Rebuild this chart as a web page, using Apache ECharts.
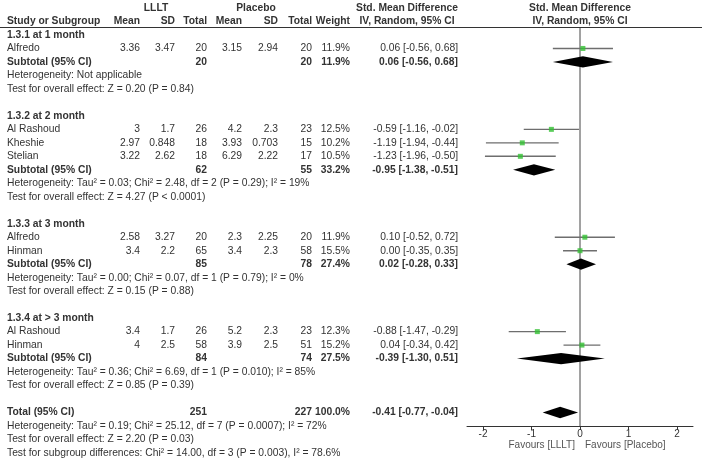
<!DOCTYPE html>
<html>
<head>
<meta charset="utf-8">
<script src="https://cdn.jsdelivr.net/npm/echarts@6/dist/echarts.min.js"></script>
<style>
html,body{margin:0;padding:0;background:#fff;}
#chart{width:702px;height:460px;}
</style>
</head>
<body>
<div id="chart"></div>
<script>
// ---------- data ----------
const studyNames = ['Alfredo','Al Rashoud','Kheshie','Stelian','Alfredo','Hinman','Al Rashoud','Hinman'];
const studyGroup = [0,1,1,1,2,2,3,3];
const lllMean = [3.36,3,2.97,3.22,2.58,3.4,3.4,4];
const lllSD = [3.47,1.7,0.848,2.62,3.27,2.2,1.7,2.5];
const lllN = [20,26,18,18,20,65,26,58];
const plMean = [3.15,4.2,3.93,6.29,2.3,3.4,5.2,3.9];
const plSD = [2.94,2.3,0.703,2.22,2.25,2.3,2.3,2.5];
const plN = [20,23,15,17,20,58,23,51];
const weights = [11.9,12.5,10.2,10.5,11.9,15.5,12.3,15.2];
const smd = [0.06,-0.59,-1.19,-1.23,0.10,0.00,-0.88,0.04];
const ciLow = [-0.56,-1.16,-1.94,-1.96,-0.52,-0.35,-1.47,-0.34];
const ciHigh = [0.68,-0.02,-0.44,-0.50,0.72,0.35,-0.29,0.42];

const groupNames = ['1.3.1 at 1 month','1.3.2 at 2 month','1.3.3 at 3 month','1.3.4 at > 3 month'];
const subLlltN = [20,62,85,84];
const subPlN = [20,55,78,74];
const subWeight = [11.9,33.2,27.4,27.5];
const subSmd = [0.06,-0.95,0.02,-0.39];
const subLow = [-0.56,-1.38,-0.28,-1.30];
const subHigh = [0.68,-0.51,0.33,0.51];
const subHet = [
  'Heterogeneity: Not applicable',
  'Heterogeneity: Tau² = 0.03; Chi² = 2.48, df = 2 (P = 0.29); I² = 19%',
  'Heterogeneity: Tau² = 0.00; Chi² = 0.07, df = 1 (P = 0.79); I² = 0%',
  'Heterogeneity: Tau² = 0.36; Chi² = 6.69, df = 1 (P = 0.010); I² = 85%'
];
const subTest = [
  'Test for overall effect: Z = 0.20 (P = 0.84)',
  'Test for overall effect: Z = 4.27 (P < 0.0001)',
  'Test for overall effect: Z = 0.15 (P = 0.88)',
  'Test for overall effect: Z = 0.85 (P = 0.39)'
];
const totalLabel = 'Total (95% CI)';
const totalN = [251,227];
const totalWeight = 100.0;
const totalSmd = [-0.41,-0.77,-0.04];
const footerLines = [
  'Heterogeneity: Tau² = 0.19; Chi² = 25.12, df = 7 (P = 0.0007); I² = 72%',
  'Test for overall effect: Z = 2.20 (P = 0.03)',
  'Test for subgroup differences: Chi² = 14.00, df = 3 (P = 0.003), I² = 78.6%'
];
const headerTop = ['LLLT','Placebo','Std. Mean Difference','Std. Mean Difference'];
const headerCols = ['Study or Subgroup','Mean','SD','Total','Mean','SD','Total','Weight','IV, Random, 95% CI','IV, Random, 95% CI'];
const xTicks = [-2,-1,0,1,2];
const favoursLabels = ['Favours [LLLT]','Favours [Placebo]'];

// ---------- layout (code only) ----------
const COL = {study:7, lMean:140, lSD:175, lN:207, pMean:242, pSD:278, pN:312, weight:350, ci:458};
const TXT = '#333';
const FONT = '"Liberation Sans", Arial, sans-serif';
const FS = 10.3;

const cells = [];   // text cells
const studyRows = [];
const diamonds = [];  // [est, lo, hi, row]
function cell(row, x, text, align, bold, opt) {
  cells.push(Object.assign({row, x, text: String(text), align: align || 'right', bold: !!bold}, opt || {}));
}
const fmtCI = (e, l, h) => `${e.toFixed(2)} [${l.toFixed(2)}, ${h.toFixed(2)}]`;

// headers
cell(-2, 156, headerTop[0], 'center', true);
cell(-2, 256, headerTop[1], 'center', true);
cell(-2, 407, headerTop[2], 'center', true);
cell(-2, 0, headerTop[3], 'center', true, {xv: 0});
const hx = [COL.study, COL.lMean, COL.lSD, COL.lN, COL.pMean, COL.pSD, COL.pN, COL.weight];
headerCols.slice(0, 8).forEach((t, i) => cell(-1, hx[i], t, i === 0 ? 'left' : 'right', true));
cell(-1, 407, headerCols[8], 'center', true);
cell(-1, 0, headerCols[9], 'center', true, {xv: 0});

let r = 0;
groupNames.forEach((g, gi) => {
  cell(r, COL.study, g, 'left', true); r++;
  studyNames.forEach((s, i) => {
    if (studyGroup[i] !== gi) return;
    cell(r, COL.study, s, 'left');
    cell(r, COL.lMean, lllMean[i]); cell(r, COL.lSD, lllSD[i]); cell(r, COL.lN, lllN[i]);
    cell(r, COL.pMean, plMean[i]); cell(r, COL.pSD, plSD[i]); cell(r, COL.pN, plN[i]);
    cell(r, COL.weight, weights[i].toFixed(1) + '%');
    cell(r, COL.ci, fmtCI(smd[i], ciLow[i], ciHigh[i]));
    studyRows.push([smd[i], ciLow[i], ciHigh[i], r]);
    r++;
  });
  cell(r, COL.study, 'Subtotal (95% CI)', 'left', true);
  cell(r, COL.lN, subLlltN[gi], 'right', true);
  cell(r, COL.pN, subPlN[gi], 'right', true);
  cell(r, COL.weight, subWeight[gi].toFixed(1) + '%', 'right', true);
  cell(r, COL.ci, fmtCI(subSmd[gi], subLow[gi], subHigh[gi]), 'right', true);
  diamonds.push([subSmd[gi], subLow[gi], subHigh[gi], r]);
  r++;
  cell(r, COL.study, subHet[gi], 'left'); r++;
  cell(r, COL.study, subTest[gi], 'left'); r++;
  r++;
});
cell(r, COL.study, totalLabel, 'left', true);
cell(r, COL.lN, totalN[0], 'right', true);
cell(r, COL.pN, totalN[1], 'right', true);
cell(r, COL.weight, totalWeight.toFixed(1) + '%', 'right', true);
cell(r, COL.ci, fmtCI(totalSmd[0], totalSmd[1], totalSmd[2]), 'right', true);
diamonds.push([totalSmd[0], totalSmd[1], totalSmd[2], r]);
const axisRow = r + 1;
r++;
footerLines.forEach(t => { cell(r, COL.study, t, 'left'); r++; });
cell(axisRow + 1.42, -5, favoursLabels[0], 'right', false, {xv: 0, dx: -5, color: '#555', fs: 10});
cell(axisRow + 1.42, 5, favoursLabels[1], 'left', false, {xv: 0, dx: 5, color: '#555', fs: 10});

const headerLineRow = -0.556;

const chart = echarts.init(document.getElementById('chart'), null, {renderer: 'canvas'});
chart.setOption({
  animation: false,
  backgroundColor: '#fff',
  grid: {left: 467, right: 9, top: 8, bottom: 34, containLabel: false},
  xAxis: {
    type: 'value', min: -2.33, max: 2.33,
    axisLine: {show: true, onZero: false, lineStyle: {color: '#333', width: 1}},
    axisTick: {show: true, customValues: xTicks, length: 4, lineStyle: {color: '#333'}},
    axisLabel: {customValues: xTicks, fontSize: 10, color: '#333', margin: 3, fontFamily: FONT},
    splitLine: {show: false}
  },
  yAxis: {type: 'value', min: -2, max: axisRow, inverse: true, show: false},
  series: [
    {
      type: 'line', data: [[0, headerLineRow], [0, axisRow]], symbol: 'none',
      lineStyle: {color: '#444', width: 1}, z: 1, silent: true
    },
    {
      type: 'custom', clip: false, z: 2, silent: true,
      data: [[0, headerLineRow]],
      renderItem: (params, api) => {
        const y = Math.round(api.coord([0, api.value(1)])[1]) + 0.5;
        return {type: 'line', shape: {x1: 0, y1: y, x2: api.getWidth(), y2: y},
          style: {stroke: '#333', lineWidth: 1}};
      }
    },
    {
      type: 'custom', clip: false, z: 3, silent: true,
      data: studyRows,
      renderItem: (params, api) => {
        const a = api.coord([api.value(1), api.value(3)]);
        const b = api.coord([api.value(2), api.value(3)]);
        return {type: 'line', shape: {x1: a[0], y1: a[1], x2: b[0], y2: b[1]},
          style: {stroke: '#6e6e6e', lineWidth: 1.4}};
      }
    },
    {
      type: 'scatter', z: 4, silent: true,
      data: studyRows.map(d => [d[0], d[3]]),
      symbol: 'rect', symbolSize: 5,
      itemStyle: {color: '#33c133'}
    },
    {
      type: 'custom', clip: false, z: 4, silent: true,
      data: diamonds,
      renderItem: (params, api) => {
        const row = api.value(3);
        const c = api.coord([api.value(0), row - 0.42]);
        const l = api.coord([api.value(1), row]);
        const h = api.coord([api.value(2), row]);
        const d = api.coord([api.value(0), row + 0.42]);
        return {type: 'polygon', shape: {points: [l, c, h, d]}, style: {fill: '#000'}};
      }
    },
    {
      type: 'custom', clip: false, z: 5, silent: true,
      data: cells.map((c, i) => [0, c.row, i]),
      renderItem: (params, api) => {
        const c = cells[api.value(2)];
        const y = api.coord([0, api.value(1)])[1];
        let x = c.x;
        if (c.xv !== undefined) x = api.coord([c.xv, 0])[0] + (c.dx || 0);
        return {type: 'text', x: x, y: y,
          style: {text: c.text, align: c.align, verticalAlign: 'middle',
            fill: c.color || TXT, fontSize: c.fs || FS, fontWeight: c.bold ? 'bold' : 'normal',
            fontFamily: FONT}};
      }
    }
  ]
});
</script>
</body>
</html>
